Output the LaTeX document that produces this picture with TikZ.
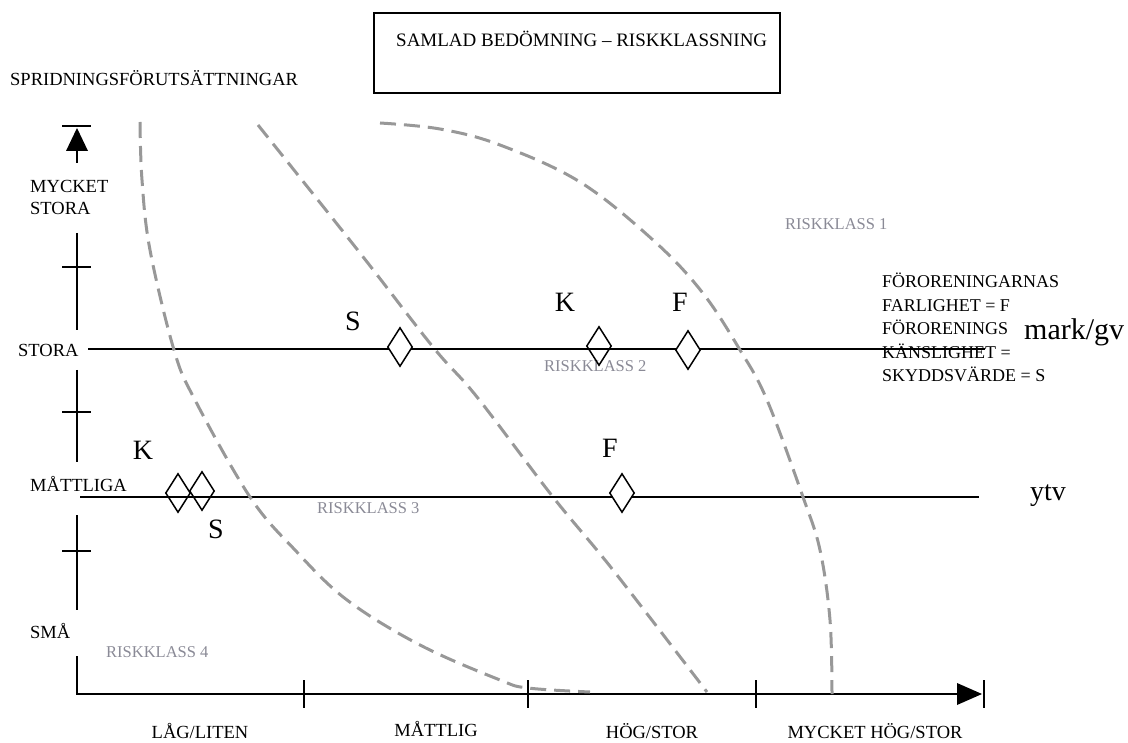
\documentclass[tikz,border=0pt]{standalone}
\usepackage{fontspec}
\setmainfont{Liberation Serif}
\usetikzlibrary{shapes.geometric}
\definecolor{zonegray}{RGB}{152,152,152}
\definecolor{klassgray}{RGB}{138,138,150}
\begin{document}
\begin{tikzpicture}[x=1pt,y=-1pt,
  axisline/.style={line width=2.6pt},
  tickline/.style={line width=2pt},
  level/.style={line width=1.4pt},
  zone/.style={draw=zonegray,line width=3pt,dash pattern=on 16pt off 8pt},
  lbl/.style={font=\fontsize{18.5}{22}\selectfont,inner sep=0pt},
  legend/.style={font=\fontsize{18}{23.5}\selectfont,inner sep=0pt,align=left},
  big/.style={font=\fontsize{28}{30}\selectfont,inner sep=0pt},
  klass/.style={font=\fontsize{16.5}{18}\selectfont,text=klassgray,inner sep=0pt},
  marker/.style={shape=diamond,draw,line width=1.5pt,minimum width=25pt,minimum height=39pt,inner sep=0pt},
  hollow/.style={marker},
  solid/.style={marker,fill=white}]
\useasboundingbox (0,0) rectangle (1128,743);

% title box
\draw[line width=1.4pt] (374,13) rectangle (780,93);
\node[lbl,anchor=base west,font=\fontsize{19}{22}\selectfont] (title) at (396,47) {SAMLAD BEDÖMNING – RISKKLASSNING};

% vertical axis
\node[lbl,anchor=base west] (ylabel) at (10,86) {SPRIDNINGSFÖRUTSÄTTNINGAR};
\draw[tickline] (62,126) -- (91,126);
\fill (77,128) -- (88,151) -- (66,151) -- cycle;
\draw[axisline] (77,150) -- (77,163);
\draw[axisline] (77,233) -- (77,330);
\draw[tickline] (62,267) -- (91,267);
\draw[axisline] (77,370) -- (77,462);
\draw[tickline] (62,412) -- (91,412);
\draw[axisline] (77,515) -- (77,610);
\draw[tickline] (62,551) -- (91,551);
\draw[axisline] (77,656) -- (77,695);

\node[lbl,anchor=base west] (ymst) at (30,193) {MYCKET};
\node[lbl,anchor=base west] (ymst2) at (30,215) {STORA};
\node[lbl,anchor=base west] (ystora) at (18,357) {STORA};
\node[lbl,anchor=base west] (ymatt) at (30,491) {MÅTTLIGA};
\node[lbl,anchor=base west] (ysma) at (30,638) {SMÅ};

% horizontal axis
\draw[axisline] (76,694) -- (960,694);
\fill (982,694) -- (957,683) -- (957,705) -- cycle;
\draw[tickline] (984,680) -- (984,708);
\draw[tickline] (304,680) -- (304,708);
\draw[tickline] (528,680) -- (528,708);
\draw[tickline] (756,680) -- (756,708);

\node[lbl,anchor=base] (xlag) at (200,738) {LÅG/LITEN};
\node[lbl,anchor=base] (xmatt) at (436,736) {MÅTTLIG};
\node[lbl,anchor=base] (xhog) at (652,738) {HÖG/STOR};
\node[lbl,anchor=base] (xmhog) at (875,738) {MYCKET HÖG/STOR};

% levels for soil/groundwater and surface water
\coordinate (gvA) at (88,349);
\coordinate (gvB) at (985,349);
\coordinate (ytA) at (80,497);
\coordinate (ytB) at (979,497);
\draw[level] (gvA) -- (gvB);
\draw[level] (ytA) -- (ytB);

% boundaries between risk classes
\draw[zone] plot[smooth,tension=0.6] coordinates {(140,122) (142,180) (150,250) (174,350) (195,400) (250,497) (295,550) (347,600) (420,645) (500,680) (528,688) (590,692)};
\draw[zone] plot[smooth,tension=0.6] coordinates {(258,125) (360,253) (433,347) (477,397) (553,497) (613,570) (707,692)};
\draw[zone] plot[smooth,tension=0.6] coordinates {(380,123) (440,129) (500,145) (580,182) (653,240) (702,292) (740,350) (767,400) (803,497) (820,550) (830,620) (832,694)};

\node[klass,anchor=base west] (rk1) at (785,230) {RISKKLASS 1};
\node[klass,anchor=base west] (rk2) at (544,372) {RISKKLASS 2};
\node[klass,anchor=base west] (rk3) at (317,513) {RISKKLASS 3};
\node[klass,anchor=base west] (rk4) at (106,657) {RISKKLASS 4};

% markers on the upper level
\node[solid] (gvS) at (400,347) {};
\node[hollow] (gvK) at (599,346) {};
\node[solid] (gvF) at (688,350) {};
\node[big,anchor=base] (tgvS) at (353,331) {S};
\node[big,anchor=base] (tgvK) at (565,312) {K};
\node[big,anchor=base] (tgvF) at (680,312) {F};

% markers on the lower level
\node[hollow] (ytK) at (178,493) {};
\node[hollow] (ytS) at (202,491) {};
\node[solid] (ytF) at (622,493) {};
\node[big,anchor=base] (tytK) at (143,460) {K};
\node[big,anchor=base] (tytS) at (216,538) {S};
\node[big,anchor=base] (tytF) at (610,457) {F};

% legend and level names
\node[legend,anchor=north west] (leg) at (882,273) {FÖRORENINGARNAS\\FARLIGHET = F\\FÖRORENINGS\\KÄNSLIGHET =\\SKYDDSVÄRDE = S};
\node[big,anchor=base west,font=\fontsize{30}{32}\selectfont] (lgv) at (1024,340) {mark/gv};
\node[big,anchor=base west] (lyt) at (1030,500) {ytv};
\end{tikzpicture}
\end{document}
